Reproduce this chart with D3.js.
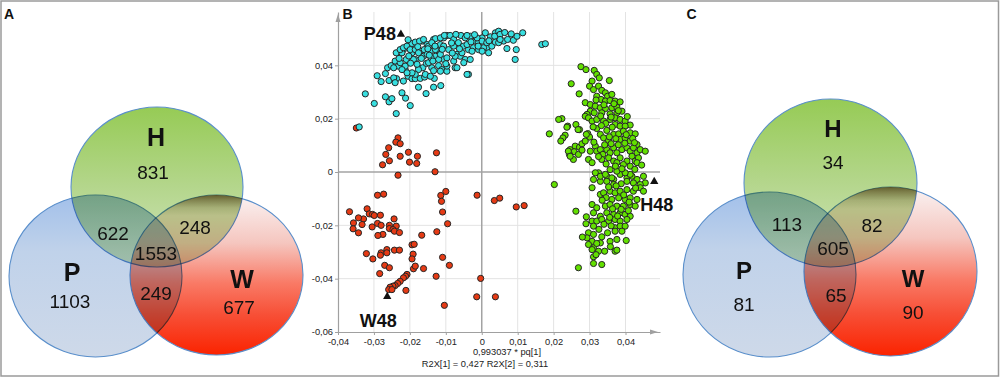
<!DOCTYPE html>
<html>
<head>
<meta charset="utf-8">
<script src="https://cdn.jsdelivr.net/npm/d3@7"></script>
<style>
  body { margin: 0; background: #fff; }
  svg { display: block; }
</style>
</head>
<body>
<div id="chart"></div>
<script>
// Venn counts, region order: H only, H∩P, H∩W, H∩P∩W, P only, P∩W, W only
const vennSets = ["P", "W", "H"]
const countsA = [831, 622, 248, 1553, 1103, 249, 677]
const countsC = [34, 113, 82, 605, 81, 65, 90]

// PCA scores [pq[1], pq[2]], in units of 0.001
const scoresW = [
  [-34.9,16.5],[-23.3,12.8],[-23.9,11.2],[-22.7,10.6],[-25.9,9.1],[-26.7,6.6],[-22.7,5.9],[-20.4,7.4],[-17.9,5.9],
  [-25.7,4.2],[-27.6,2.7],[-20.1,3.7],[-18.1,3.2],[-12.6,7.2],[-23.3,-1.2],[-13.0,0.1],[-10.0,-7.3],[-11.4,-8.8],
  [-11.2,-11.0],[-10.9,-15.0],[-9.5,-19.4],[3.5,-10.7],[5.0,-9.8],[9.6,-13.1],[11.8,-12.6],[-0.3,-39.9],[3.8,-46.8],
  [-1.3,-8.7],[-1.4,-46.8],[-10.4,-50.0],
  [-36.8,-14.9],[-31.9,-13.8],[-29.0,-8.7],[-27.3,-8.3],[-31.3,-15.7],[-30.4,-15.9],[-32.9,-17.6],[-34.3,-17.2],
  [-29.9,-16.3],[-28.2,-16.2],[-35.7,-19.1],[-33.3,-19.7],[-30.5,-20.6],[-29.0,-19.3],[-28.0,-20.0],[-24.4,-17.6],
  [-25.7,-20.0],[-23.8,-20.3],[-25.7,-21.2],[-24.7,-21.6],[-24.3,-22.2],[-35.8,-21.3],[-34.3,-22.8],[-27.5,-23.4],
  [-28.9,-23.8],[-22.9,-22.7],[-19.4,-27.3],[-18.8,-27.1],[-16.7,-23.7],[-12.5,-22.4],[-32.1,-30.6],[-30.3,-32.6],
  [-28.0,-30.3],[-28.2,-31.2],[-26.4,-29.1],[-24.3,-29.3],[-22.9,-29.3],[-26.4,-30.3],[-19.1,-30.8],[-19.4,-32.6],
  [-27.0,-35.0],[-25.7,-35.9],[-28.4,-38.1],[-19.0,-36.3],[-18.5,-35.3],[-16.2,-36.2],[-12.7,-39.1],[-10.9,-32.0],
  [-9.0,-35.0],[-20.8,-38.4],[-21.2,-39.1],[-21.8,-39.7],[-22.7,-41.0],[-23.4,-41.8],[-24.1,-42.6],[-24.7,-42.8],
  [-25.5,-43.2],[-25.9,-44.1],[-25.0,-44.1],[-21.1,-44.4]
]
const scoresP = [
  [-32.4,29.3],[-29.9,25.7],[-29.1,36.1],[-28.0,33.9],[-26.8,36.9],[-26.8,28.2],[-25.8,26.3],[-25.0,27.5],[-23.8,21.9],
  [-25.8,34.3],[-26.2,39.1],[-25.2,39.9],[-24.1,41.6],[-23.7,35.0],[-23.2,39.7],[-23.8,44.7],[-22.2,29.7],[-21.2,27.7],
  [-19.9,24.9],[-21.8,34.1],[-20.5,35.9],[-19.4,35.0],[-18.5,35.0],[-17.6,31.8],[-17.1,35.1],[-15.9,35.6],[-15.5,29.4],
  [-13.4,31.8],[-13.2,35.1],[-11.4,32.4],[-21.3,38.4],[-22.7,41.0],[-21.0,42.2],[-18.5,42.2],[-17.6,39.1],[-16.4,39.1],
  [-15.4,40.7],[-13.9,39.1],[-12.0,39.9],[-11.1,38.4],[-9.7,37.8],[-7.4,39.1],[-3.7,36.6],[-4.1,36.6],[-24.5,35.3],
  [-24.1,33.5],[-24.5,39.1],[-21.3,39.7],[-19.0,42.2],[-21.8,45.9],[-22.2,44.7],[-19.9,47.2],[-18.0,48.5],[-16.6,49.1],
  [-19.4,44.7],[-17.1,45.3],[-16.2,43.4],[-14.8,41.0],[-13.4,38.0],[-11.5,37.8],[-9.7,39.7],[-10.6,42.2],[-12.9,43.4],
  [-14.3,45.3],[-12.5,45.9],[-11.5,47.8],[-10.6,50.3],[-9.7,51.2],[-15.2,47.8],[-13.4,49.7],[-17.6,38.4],[-18.5,36.6],
  [-15.7,36.6],[-14.3,35.9],[-19.4,37.2],[-20.8,37.2],[-22.2,38.4],
  [-22.7,45.9],[-21.8,46.6],[-20.8,47.2],[-19.4,48.2],[-18.5,48.7],[-17.3,49.1],[-19.9,45.9],[-18.5,45.9],[-17.6,44.7],
  [-16.0,45.9],[-15.2,44.1],[-14.1,42.8],[-12.9,45.9],[-12.9,50.0],[-11.5,50.3],[-10.4,51.2],[-8.8,51.2],[-7.8,49.7],
  [-10.6,47.2],[-9.2,45.9],[-7.8,47.2],[-6.5,48.5],[-5.8,51.2],[-4.6,50.3],[-3.2,50.9],[-1.8,49.1],[-5.1,47.2],
  [-3.7,45.9],[-2.3,46.6],[-0.9,48.5],[0.1,50.3],[1.0,52.2],[2.4,50.7],[3.8,52.2],[4.7,52.8],[1.4,46.6],[-6.9,44.1],
  [-9.7,42.8],[-12.0,42.2],[-7.8,41.6],[-6.0,43.4],[-11.5,44.1],[-14.8,47.2],[-16.2,49.7],[-13.9,48.5],
  [-4.1,51.2],[-1.3,50.3],[3.6,50.9],[5.1,51.6],[6.1,49.1],[7.2,49.7],[8.8,49.4],[9.8,50.9],[11.4,52.2],[7.0,46.3],
  [9.6,45.9],[9.3,42.2],[1.9,44.7],[0.5,46.6],[-0.9,45.9],[2.8,47.2],[3.8,48.7],[4.7,48.5],[0.1,49.1],[16.7,47.8],
  [17.7,48.1],[-6.9,39.1],[-4.6,42.2],[-3.2,42.2],[-5.5,44.7],[-2.7,45.3],[-7.4,43.4],[-4.1,47.8],[5.1,49.7],[1.4,48.5],
  [0.1,45.3],[-34.1,16.9],
  [-20.3,43.5],[-17.8,47.0],[-15.0,46.2],[-13.0,47.2],[-11.0,46.0],[-8.4,48.4],[-6.2,46.2],[-3.0,48.8],[-1.0,47.2],
  [2.0,49.2],[-2.0,51.5],[-8.2,44.6],[-13.6,41.6],[-16.8,42.6],[-19.8,40.8],[-23.0,42.6],[-20.5,49.6],[-7.2,51.6],
  [6.4,52.3],[8.2,51.8],[-5.0,41.0],[-10.0,40.6],[-14.6,43.8],[-18.0,40.4]
]
const scoresH = [
  [27.6,39.5],[29.0,38.4],[31.3,38.1],[32.0,36.6],[32.7,35.3],[35.5,34.3],[24.9,33.1],[27.1,29.3],[30.7,34.1],[30.0,32.2],
  [31.1,30.9],[32.5,32.2],[33.4,30.6],[34.4,29.7],[35.0,28.4],[36.2,29.1],[32.0,28.4],[33.2,27.2],[34.4,26.6],[35.7,26.8],
  [37.1,26.6],[38.5,26.3],[28.8,26.0],[30.2,25.3],[31.6,24.7],[33.0,24.1],[34.4,23.8],[36.2,24.1],[37.6,24.3],[30.2,22.8],
  [31.3,22.2],[33.4,22.2],[35.7,21.8],[37.6,22.2],[39.0,22.8],[29.3,21.6],[28.8,20.9],[29.7,20.3],[30.7,19.1],[32.0,19.7],
  [33.9,19.1],[35.7,19.7],[37.1,20.3],[38.5,19.7],[39.9,19.1],[41.3,17.6],[37.1,17.8],[38.5,17.2],[39.9,17.2],[22.3,20.0],
  [21.4,19.7],[23.9,17.2],[26.2,17.8],[27.2,15.9],[18.8,14.3],[23.2,13.8],[22.6,12.8],[22.0,11.6],[29.5,14.4],[30.0,13.1],
  [32.0,16.3],[33.0,14.1],[34.8,15.6],[33.9,12.8],[35.3,11.8],[36.7,14.1],[38.1,14.3],[39.4,15.3],[41.3,14.7],[42.7,14.3],
  [38.5,12.2],[39.9,12.8],[41.3,11.6],[43.2,10.3],[26.0,9.7],[27.2,9.3],[27.9,10.6],[28.8,11.6],[24.6,8.4],[25.7,7.6],
  [24.4,6.6],[26.9,6.6],[25.5,4.7],[30.2,7.8],[31.6,9.7],[32.0,7.8],[33.0,8.4],[33.7,6.6],[34.8,8.4],[35.7,7.2],
  [36.7,9.1],[37.6,7.2],[39.0,8.4],[40.4,9.1],[41.3,7.8],[42.2,9.1],[43.2,7.2],[44.1,8.4],[45.5,7.8],[29.7,4.7],
  [33.4,4.7],[35.3,5.3],[36.7,4.1],[38.5,5.3],[40.4,4.1],[41.8,5.9],[42.7,4.1],[43.6,5.3],[23.7,16.8],[26.8,15.9],
  [24.1,7.8],[24.6,5.9],[27.9,8.2],[29.1,14.1],[30.7,3.5],[32.5,-0.3],[31.1,-2.8],[33.0,-3.5],[34.8,-1.6],[36.7,-2.8],
  [38.5,-0.9],[40.4,-2.2],[41.8,-1.6],[43.2,-2.8],[45.0,-1.6],[45.5,-4.1],[20.2,-4.7],[26.2,-14.7],[29.1,-16.8],[30.7,-5.9],
  [31.6,-0.3],[33.0,-1.6],[34.4,-0.9],[36.2,-2.2],[34.8,-3.5],[36.7,-4.7],[40.4,-3.5],[42.2,-4.1],[44.1,-4.7],[41.3,-0.9],
  [39.9,-0.3],[37.6,0.3],[35.7,0.9],[41.3,2.2],[43.2,3.5],[39.4,2.8],[37.6,3.5],[33.0,-8.4],[33.9,-7.8],[35.7,-7.2],
  [37.1,-7.8],[38.5,-7.2],[40.4,-6.6],[42.2,-7.2],[44.1,-5.9],[45.0,-7.2],[36.2,-10.3],[38.1,-9.7],[39.9,-10.3],[41.3,-9.7],
  [43.2,-10.3],[30.7,-12.2],[32.0,-13.4],[34.4,-12.8],[35.7,-12.2],[37.6,-12.8],[39.4,-12.8],[41.3,-12.2],[42.7,-12.8],[31.1,-15.3],
  [33.0,-16.6],[34.8,-15.3],[36.7,-15.9],[38.5,-15.3],[39.9,-15.9],[41.3,-16.6],[30.7,-18.4],[32.0,-18.4],[33.4,-17.8],[35.3,-18.4],
  [37.1,-17.8],[38.5,-18.4],[40.4,-17.8],[31.1,-20.3],[37.1,-20.9],[38.5,-20.3],[39.9,-20.3],[29.7,-22.8],[31.1,-23.4],[37.1,-22.2],
  [39.0,-22.2],[29.3,-24.7],[30.7,-26.0],[35.7,-26.0],[37.6,-25.3],[40.2,-25.7],[29.7,-27.2],[33.0,-26.6],[31.1,-28.4],[30.7,-29.1],
  [32.5,-29.7],[37.1,-29.7],[37.6,-29.3],[31.1,-31.8],[33.4,-34.7],[26.9,-35.9],[34.2,-29.7],[31.1,-34.3],
  [31.8,27.0],[34.0,25.2],[36.8,25.6],[33.1,21.0],[36.0,20.6],[38.0,23.0],[34.5,18.2],[36.3,16.8],[40.5,20.8],[31.0,16.9],
  [33.3,17.4],[35.5,13.2],[37.3,12.5],[40.2,14.0],[42.0,12.6],[34.2,10.2],[36.0,10.6],[38.0,10.2],[39.8,10.8],[42.5,11.0],
  [31.2,11.2],[32.5,5.8],[34.6,3.0],[37.2,2.2],[39.0,1.2],[42.6,1.0],[44.5,2.6],[35.3,-5.6],[38.8,-4.4],[42.8,-6.0],
  [37.4,-5.2],[39.5,-8.6],[34.6,-9.6],[41.0,-11.3],[33.5,-10.6],[36.4,-13.8],[38.8,-14.0],[40.8,-14.5],[35.6,-17.0],[37.8,-16.5],
  [34.0,-19.6],[36.0,-20.2],[32.6,-21.5],[35.0,-22.8],[33.4,-24.3],[32.0,-26.8],[35.8,-28.0],[29.0,-19.4],[28.0,-24.4],[31.8,-31.0]
]
// labelled samples [name, pq[1], pq[2]] in units of 0.001
const marked = [["P48", -22.5, 51.6], ["H48", 48.0, -3.6], ["W48", -26.3, -46.7]]
const xTicks = [-40, -30, -20, -10, 0, 10, 20, 30, 40]
const yTicks = [-60, -40, -20, 0, 20, 40]
const xTitle = "0,993037 * pq[1]"
const fitText = "R2X[1] = 0,427 R2X[2] = 0,311"

const width = 1000
const height = 378
const font = "'Liberation Sans', Arial, sans-serif"

const svg = d3.select("#chart").append("svg")
    .attr("width", width)
    .attr("height", height)
    .attr("viewBox", [0, 0, width, height])

svg.append("rect").attr("width", width).attr("height", height).attr("fill", "#fff")

// gradients for the three set circles
const defs = svg.append("defs")
const gradStops = {
    P: [[0, "#a2c0ea"], [0.35, "#c0d2ea"], [1, "#ced9e9"]],
    W: [[0, "#faf3f3"], [0.3, "#f5c6bf"], [0.55, "#f97a66"], [0.75, "#f74f36"], [1, "#fb2300"]],
    H: [[0, "#96cb55"], [0.5, "#b4d68c"], [1, "#d2e5be"]]
}
for (const s of vennSets) {
    defs.append("linearGradient")
        .attr("id", "grad" + s)
        .attr("x1", 0).attr("y1", 0).attr("x2", 0).attr("y2", 1)
        .selectAll("stop")
        .data(gradStops[s])
        .join("stop")
        .attr("offset", d => d[0])
        .attr("stop-color", d => d[1])
}
// dark rim along the top of W, only seen where H covers it
defs.append("linearGradient")
    .attr("id", "gradRim")
    .attr("x1", 0).attr("y1", 0).attr("x2", 0).attr("y2", 1)
    .selectAll("stop")
    .data([[0, 0.75], [0.03, 0.5], [0.08, 0.15], [0.13, 0]])
    .join("stop")
    .attr("offset", d => d[0])
    .attr("stop-color", "#4a3810")
    .attr("stop-opacity", d => d[1])

// ---- Venn panels
const vennA = {
    id: "A",
    circles: { P: [95.5, 276, 86.5, 81], W: [216.5, 275, 86.5, 80], H: [157, 187, 86, 80] },
    setPos: { H: [156, 137], P: [72, 272], W: [242, 279] },
    countPos: [[153, 172], [113, 233], [195, 227], [156, 253], [70, 301], [156, 293], [239, 307]],
    setSize: 25
}
const vennC = {
    id: "C",
    circles: { P: [769.5, 274.5, 86.5, 82.5], W: [890.5, 271.5, 86.5, 84.5], H: [830.5, 183, 86.5, 84] },
    setPos: { H: [833, 128], P: [744, 270], W: [913, 278] },
    countPos: [[833, 162], [787, 224], [872, 225], [833, 248], [744, 304], [836, 295], [913, 312]],
    setSize: 24
}

const ellipseAttrs = (sel, c) => sel
    .attr("cx", c[0]).attr("cy", c[1]).attr("rx", c[2]).attr("ry", c[3])

function drawVenn(layout, counts) {
    defs.append("clipPath").attr("id", "clipH" + layout.id)
        .append("ellipse").call(ellipseAttrs, layout.circles.H)

    const g = svg.append("g").style("isolation", "isolate")
    g.selectAll("ellipse")
        .data(vennSets)
        .join("ellipse")
        .attr("cx", s => layout.circles[s][0])
        .attr("cy", s => layout.circles[s][1])
        .attr("rx", s => layout.circles[s][2])
        .attr("ry", s => layout.circles[s][3])
        .attr("fill", s => `url(#grad${s})`)
        .attr("stroke", "#5a8fcb")
        .attr("stroke-width", 1.1)
        .style("mix-blend-mode", (s, i) => i ? "multiply" : null)

    g.append("ellipse")
        .call(ellipseAttrs, layout.circles.W)
        .attr("fill", "url(#gradRim)")
        .attr("clip-path", `url(#clipH${layout.id})`)

    g.selectAll("text.set")
        .data(vennSets)
        .join("text")
        .attr("class", "set")
        .attr("x", s => layout.setPos[s][0])
        .attr("y", s => layout.setPos[s][1])
        .attr("dy", "0.36em")
        .attr("text-anchor", "middle")
        .attr("font-family", font)
        .attr("font-weight", "bold")
        .attr("font-size", layout.setSize)
        .attr("fill", "#111")
        .text(s => s)

    g.selectAll("text.count")
        .data(counts)
        .join("text")
        .attr("class", "count")
        .attr("x", (d, i) => layout.countPos[i][0])
        .attr("y", (d, i) => layout.countPos[i][1])
        .attr("dy", "0.36em")
        .attr("text-anchor", "middle")
        .attr("font-family", font)
        .attr("font-size", 19)
        .attr("fill", "#111")
        .text(d => d)
}

drawVenn(vennA, countsA)
drawVenn(vennC, countsC)

// ---- score plot
const x = d3.scaleLinear().domain([-40, 49.6]).range([338, 660])
const y = d3.scaleLinear().domain([-60, 60]).range([332, 12])

const locale = d3.formatLocale({ decimal: ",", thousands: ".", grouping: [3], currency: ["", ""], minus: "-" })
const f2 = locale.format(".2f")
const tickFmt = d => d === 0 ? "0" : f2(d / 1000)

const plot = svg.append("g")

// light grid
plot.append("g")
    .attr("stroke", "#e3e3e3")
    .attr("stroke-width", 1)
    .call(g => g.selectAll("line.v")
        .data(xTicks.filter(d => d !== 0 && d !== -40))
        .join("line")
        .attr("class", "v")
        .attr("x1", d => x(d)).attr("x2", d => x(d))
        .attr("y1", y.range()[1]).attr("y2", y.range()[0]))
    .call(g => g.selectAll("line.h")
        .data(yTicks.filter(d => d !== 0 && d !== -60))
        .join("line")
        .attr("class", "h")
        .attr("x1", x.range()[0]).attr("x2", x.range()[1])
        .attr("y1", d => y(d)).attr("y2", d => y(d)))

// zero lines
plot.append("g")
    .attr("stroke", "#a3a3a3")
    .attr("stroke-width", 1.5)
    .call(g => g.append("line")
        .attr("x1", x.range()[0]).attr("x2", x.range()[1])
        .attr("y1", y(0)).attr("y2", y(0)))
    .call(g => g.append("line")
        .attr("x1", x(0)).attr("x2", x(0))
        .attr("y1", y.range()[1]).attr("y2", y.range()[0]))

// axes
const styleAxis = g => {
    g.select(".domain").attr("stroke", "#a0a0a0").attr("stroke-width", 1.2)
    g.selectAll(".tick line").attr("stroke", "#a0a0a0")
    g.selectAll(".tick text").attr("fill", "#222").attr("font-family", font).attr("font-size", 9.3)
}
plot.append("g")
    .attr("transform", `translate(0,${y(-60)})`)
    .call(d3.axisBottom(x).tickValues(xTicks).tickFormat(tickFmt).tickSize(3).tickPadding(3).tickSizeOuter(0))
    .call(styleAxis)
plot.append("g")
    .attr("transform", `translate(${x(-40)},0)`)
    .call(d3.axisLeft(y).tickValues(yTicks).tickFormat(tickFmt).tickSize(3).tickPadding(2).tickSizeOuter(0))
    .call(styleAxis)

// axis arrow heads
const xEnd = x.range()[1] - 2
const yEnd = y.range()[1] + 2
plot.append("path")
    .attr("d", `M${xEnd - 8},${y(-60) - 2.5}L${xEnd},${y(-60)}L${xEnd - 8},${y(-60) + 2.5}Z`)
    .attr("fill", "#a0a0a0")
plot.append("path")
    .attr("d", `M${x(-40) - 2.5},${yEnd + 8}L${x(-40)},${yEnd}L${x(-40) + 2.5},${yEnd + 8}Z`)
    .attr("fill", "#a0a0a0")

plot.append("text")
    .attr("x", 507).attr("y", 354.5)
    .attr("text-anchor", "middle")
    .attr("font-family", font).attr("font-size", 9.3).attr("fill", "#222")
    .text(xTitle)
plot.append("text")
    .attr("x", 485).attr("y", 366.5)
    .attr("text-anchor", "middle")
    .attr("font-family", font).attr("font-size", 9.3).attr("fill", "#222")
    .text(fitText)

// points
const groups = [
    { data: scoresW, fill: "#e63a14" },
    { data: scoresP, fill: "#38dfe0" },
    { data: scoresH, fill: "#62e000" }
]
for (const grp of groups) {
    plot.append("g")
        .attr("fill", grp.fill)
        .attr("stroke", "#262626")
        .attr("stroke-width", 1)
        .selectAll("circle")
        .data(grp.data)
        .join("circle")
        .attr("cx", d => x(d[0]))
        .attr("cy", d => y(d[1]))
        .attr("r", 3.1)
}

// labelled samples
const tri = d3.symbol(d3.symbolTriangle, 30)
const markG = plot.append("g")
markG.selectAll("path")
    .data(marked)
    .join("path")
    .attr("transform", d => `translate(${x(d[1])},${y(d[2])})`)
    .attr("d", tri)
    .attr("fill", "#111")

// label placement relative to each triangle: [dx, dy, anchor]
const labelOffset = { P48: [-5, 5.5, "end"], H48: [-14, 29, "start"], W48: [-9, 30, "middle"] }
markG.selectAll("text")
    .data(marked)
    .join("text")
    .attr("x", d => x(d[1]) + labelOffset[d[0]][0])
    .attr("y", d => y(d[2]) + labelOffset[d[0]][1])
    .attr("text-anchor", d => labelOffset[d[0]][2])
    .attr("font-family", font)
    .attr("font-weight", "bold")
    .attr("font-size", 18)
    .attr("fill", "#111")
    .text(d => d[0])

// panel letters
svg.selectAll("text.panel")
    .data([["A", 4], ["B", 342.5], ["C", 686.5]])
    .join("text")
    .attr("class", "panel")
    .attr("x", d => d[1])
    .attr("y", 18.5)
    .attr("font-family", font)
    .attr("font-weight", "bold")
    .attr("font-size", 14)
    .attr("fill", "#111")
    .text(d => d[0])

// outer frame
svg.append("rect")
    .attr("x", 1).attr("y", 1)
    .attr("width", width - 2.5).attr("height", 375)
    .attr("fill", "none")
    .attr("stroke", "#9a9a9a")
    .attr("stroke-width", 1.5)
</script>
</body>
</html>
